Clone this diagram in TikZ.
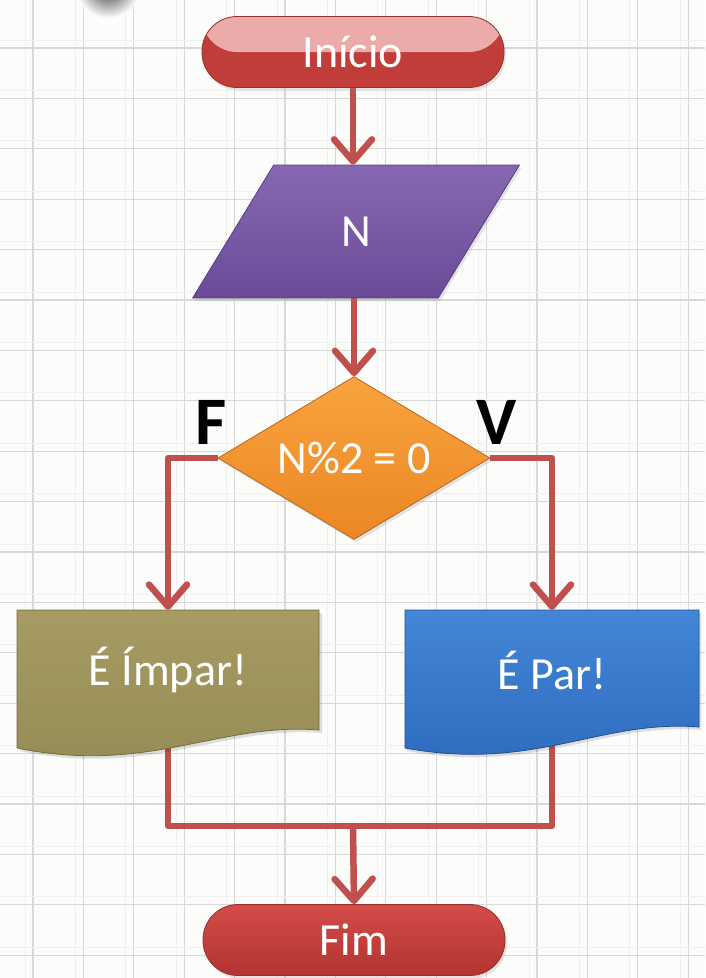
\documentclass[tikz,border=0pt]{standalone}
\usepackage{fontspec}
\setmainfont{Carlito}
\usetikzlibrary{shapes.geometric,arrows.meta,shadows,calc}
\definecolor{lineRed}{HTML}{C0504D}
\definecolor{bgc}{HTML}{FCFCFA}
\definecolor{gridMaj}{HTML}{D8D8D6}
\definecolor{gridMin}{HTML}{F0F0EE}
\definecolor{pillTop}{HTML}{EAABAA}
\definecolor{pillBot}{HTML}{C13D39}
\definecolor{pillEdge}{HTML}{96302D}
\definecolor{fimTop}{HTML}{D44C48}
\definecolor{fimBot}{HTML}{B13431}
\definecolor{purTop}{HTML}{8668B2}
\definecolor{purBot}{HTML}{6A4B98}
\definecolor{purEdge}{HTML}{5A3E85}
\definecolor{oraTop}{HTML}{F9A33F}
\definecolor{oraBot}{HTML}{EA8724}
\definecolor{oraEdge}{HTML}{B8671A}
\definecolor{oliTop}{HTML}{A69B63}
\definecolor{oliBot}{HTML}{958B56}
\definecolor{oliEdge}{HTML}{756C3F}
\definecolor{bluTop}{HTML}{4486D8}
\definecolor{bluBot}{HTML}{2D6ABD}
\definecolor{bluEdge}{HTML}{22508F}
\pgfdeclarelayer{bggrid}
\pgfdeclarelayer{conn}
\pgfdeclarelayer{shp}
\pgfsetlayers{bggrid,conn,shp,main}
\tikzset{
  txt/.style={text=white, font=\fontsize{46}{50}\selectfont},
  fv/.style={text=black, font=\fontsize{68}{70}\selectfont\bfseries},
  pill/.style={rectangle, rounded corners=35pt, minimum width=302pt, minimum height=71pt, draw=pillEdge, line width=0.8pt, txt,
    drop shadow={shadow xshift=2pt, shadow yshift=-3pt, opacity=0.2}},
  flow/.style={draw=lineRed, line width=6.5pt, line join=round},
  arr/.style={flow, -{Straight Barb[length=22pt,width=38pt,round]}},
  gmaj/.style={draw=gridMaj, line width=1.3pt},
  gmin/.style={draw=gridMin, line width=1pt},
}
\begin{document}
\begin{tikzpicture}[x=1pt,y=-1pt]
\useasboundingbox (0,0) rectangle (705,978);
\begin{pgfonlayer}{bggrid}
  \fill[bgc] (0,0) rectangle (705,978);
  \foreach \i in {0,...,13} {
    \draw[gmin] (25+\i*50.4,0) -- ++(0,978);
    \draw[gmaj] (33+\i*50.4,0) -- ++(0,978);
  }
  \foreach \j in {0,...,18} {
    \draw[gmin] (0,40+\j*50.4) -- ++(705,0);
    \draw[gmaj] (0,48+\j*50.4) -- ++(705,0);
  }
  \shade[inner color=black!80, outer color=bgc] (108,-14) circle (32);
\end{pgfonlayer}

% nodes
\node[pill, fill=pillBot, path picture={\fill[pillTop] (path picture bounding box.north west) rectangle (path picture bounding box.east);}] (start) at (353,52) {Início};

\node[trapezium, trapezium left angle=63.6, trapezium right angle=116.4, trapezium stretches=true,
  minimum width=328pt, minimum height=133pt, inner sep=0pt, top color=purTop, bottom color=purBot, draw=purEdge, line width=0.8pt,
  drop shadow={shadow xshift=2pt, shadow yshift=-3pt, opacity=0.2}, txt] (in) at (356,231.5) {N};

\node[diamond, aspect=1.67, minimum width=272pt, minimum height=163pt, inner sep=0pt, top color=oraTop, bottom color=oraBot,
  draw=oraEdge, line width=0.8pt, drop shadow={shadow xshift=2pt, shadow yshift=-3pt, opacity=0.2}, txt] (dec) at (354,458) {N\%2 = 0};

\node[fv] (F) at (211,422) {F};
\node[fv] (V) at (497,422) {V};

\node[rectangle, minimum width=302pt, minimum height=120pt, inner sep=0pt, txt] (impar) at (168,670) {É Ímpar!};
\node[rectangle, minimum width=294pt, minimum height=120pt, inner sep=0pt, txt] (par) at (552,670) {É Par!};

\node[pill, top color=fimTop, bottom color=fimBot] (fim) at (354,940) {Fim};

% document shapes
\begin{pgfonlayer}{shp}
  \fill[black, opacity=0.12] (20,613) -- (322,613) -- (322,733) .. controls (222,725) and (152,778) .. (20,751) -- cycle;
  \shade[top color=oliTop, bottom color=oliBot, draw=oliEdge, line width=0.8pt]
    (17,610) -- (319,610) -- (319,730) .. controls (219,722) and (149,775) .. (17,748) -- cycle;
  \fill[black, opacity=0.12] (407,613) -- (701,613) -- (701,730) .. controls (602,722) and (537,775) .. (407,751) -- cycle;
  \shade[top color=bluTop, bottom color=bluBot, draw=bluEdge, line width=0.8pt]
    (405,610) -- (699,610) -- (699,727) .. controls (600,719) and (535,772) .. (405,748) -- cycle;
\end{pgfonlayer}

% connectors
\begin{pgfonlayer}{conn}
  \draw[arr] (start.south) -- (start.south |- in.north);
  \draw[arr] (in.south -| dec.north) -- (dec.north);
  \draw[arr] (dec.west) -| (impar.north);
  \draw[arr] (dec.east) -| (par.north);
  \coordinate (j) at (353,826);
  \draw[flow] (impar.south) |- (j) -| (par.south);
  \draw[arr] (j) -- (fim.north);
\end{pgfonlayer}
\end{tikzpicture}
\end{document}
